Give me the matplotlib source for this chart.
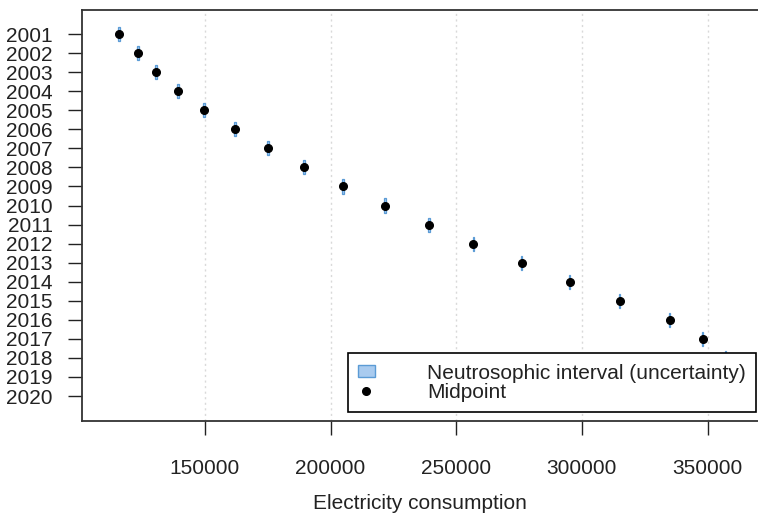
import numpy as np
import matplotlib.pyplot as plt
from matplotlib.patches import Rectangle, Patch
from matplotlib.lines import Line2D

plt.rcParams['font.family'] = ['Liberation Sans', 'DejaVu Sans']

# ── data ────────────────────────────────────────────────────────────────
years = list(range(2001, 2021))
lower = [115500, 123100, 130200, 139000, 149300, 161600, 174700, 189100,
         204600, 221300, 238800, 256500, 275700, 294800, 314700, 334600,
         347700, 356900, np.nan, np.nan]
upper = [116100, 123700, 130800, 139600, 149900, 162200, 175300, 189700,
         205200, 221900, 239400, 257100, 276300, 295400, 315300, 335200,
         348300, 357500, np.nan, np.nan]
x_ticks = [150000, 200000, 250000, 300000, 350000]

mid = (np.array(lower) + np.array(upper)) / 2

# ── figure ──────────────────────────────────────────────────────────────
W, H = 758, 516
fig = plt.figure(figsize=(W / 100, H / 100), dpi=100)
ax = fig.add_axes([82 / W, 1 - 421 / H, 1 - 82 / W, (421 - 9.5) / H])

# dotted vertical grid at the x ticks
for x in x_ticks:
    ax.axvline(x, color='#d9d9d9', lw=1, ls=(0, (1.5, 2.5)), zorder=0)

blue_fill = '#a9cbef'
blue_edge = '#5b9bd5'
half_h = 0.37
for y, lo, hi in zip(years, lower, upper):
    if np.isnan(lo):
        continue
    ax.add_patch(Rectangle((lo, y - half_h), hi - lo, 2 * half_h,
                           facecolor=blue_fill, edgecolor=blue_edge,
                           lw=0.9, zorder=2))

ax.plot(mid, years, 'o', color='black', ms=5.5, zorder=3)

ax.set_xlim(101100, 370050)
ax.set_ylim(2021.31, 1999.71)
ax.set_xticks(x_ticks)
ax.set_xticklabels([str(v) for v in x_ticks])
ax.set_yticks(years)
ax.set_yticklabels([str(y) for y in years])
ax.tick_params(axis='both', labelsize=15, colors='#222222',
               length=10, width=1)
ax.tick_params(axis='x', pad=17)
ax.tick_params(axis='y', pad=11)
for s in ['left', 'top', 'bottom']:
    ax.spines[s].set_color('#333333')
    ax.spines[s].set_linewidth(1.3)
ax.spines['right'].set_visible(False)

ax.set_xlabel('Electricity consumption', fontsize=15, color='#222222',
              labelpad=12)

handles = [Patch(facecolor=blue_fill, edgecolor=blue_edge),
           Line2D([], [], marker='o', color='black', ls='none', ms=5.5)]
leg = ax.legend(handles, ['Neutrosophic interval (uncertainty)', 'Midpoint'],
                loc='lower right',
                bbox_to_anchor=(756 / W, 1 - 412 / H),
                bbox_transform=fig.transFigure,
                fontsize=15, frameon=True, fancybox=False,
                framealpha=1, edgecolor='black', borderpad=0.5,
                labelspacing=0.0, handlelength=0.8, handleheight=0.5,
                handletextpad=2.5, borderaxespad=0)
leg.get_frame().set_linewidth(1.2)
for t in leg.get_texts():
    t.set_color('#222222')
leg.set_zorder(5)

fig.savefig('out.png', dpi=100)
